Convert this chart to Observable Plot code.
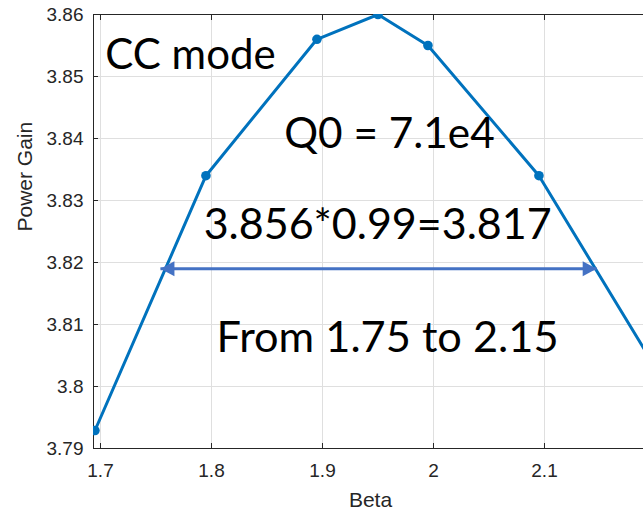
<!DOCTYPE html>
<html>
<head>
<meta charset="utf-8">
<script src="https://cdn.jsdelivr.net/npm/d3@7"></script>
<script src="https://cdn.jsdelivr.net/npm/@observablehq/plot@0.6"></script>
<style>
  html, body { margin: 0; padding: 0; background: #fff; }
  #chart svg { display: block; }
</style>
</head>
<body>
<div id="chart"></div>
<script>
// ---- data ----
const beta = [1.695, 1.795, 1.895, 1.95, 1.995, 2.095, 2.195];
const powerGain = [3.7929, 3.834, 3.856, 3.86, 3.855, 3.834, 3.8045];

const xTicks = [1.7, 1.8, 1.9, 2.0, 2.1];
const xTickLabels = ["1.7", "1.8", "1.9", "2", "2.1"];
const yTicks = [3.79, 3.80, 3.81, 3.82, 3.83, 3.84, 3.85, 3.86];
const yTickLabels = ["3.79", "3.8", "3.81", "3.82", "3.83", "3.84", "3.85", "3.86"];

const rangeLevel = [3.819];
const rangeEnds = [1.754, 2.147];

const notes = ["CC mode", "Q0 = 7.1e4", "3.856*0.99=3.817", "From 1.75 to 2.15"];

const points = beta.map((b, i) => ({beta: b, gain: powerGain[i]}));
const arrow = [{x1: rangeEnds[0], x2: rangeEnds[1], y: rangeLevel[0]}];
const heads = [
  {x: rangeEnds[0], y: rangeLevel[0], dir: 180},
  {x: rangeEnds[1], y: rangeLevel[0], dir: 0}
];

// filled triangular arrowhead, tip at origin pointing right
const headSymbol = {
  draw(ctx) {
    ctx.moveTo(0, 0);
    ctx.lineTo(-14, -7.5);
    ctx.lineTo(-14, 7.5);
    ctx.closePath();
  }
};

const axisColor = "#262626";
const gridColor = "#dfdfdf";
const lineColor = "#0072BD";
const arrowColor = "#4472C4";
const noteFont = "Lato";

const chart = Plot.plot({
  width: 643,
  height: 513,
  marginLeft: 93,
  marginRight: 0,
  marginTop: 14,
  marginBottom: 65,
  style: {fontFamily: "Liberation Sans, Arial, sans-serif", fontSize: "19px", color: axisColor, background: "#fff"},
  x: {domain: [1.6937, 2.1892]},
  y: {domain: [3.79, 3.86]},
  marks: [
    Plot.gridX(xTicks, {stroke: gridColor, strokeOpacity: 1, strokeWidth: 1}),
    Plot.gridY(yTicks, {stroke: gridColor, strokeOpacity: 1, strokeWidth: 1}),
    // frame lines (no right edge: the figure is cropped)
    Plot.ruleY([yTicks[0]], {stroke: axisColor, strokeWidth: 1}),
    Plot.ruleY([yTicks[yTicks.length - 1]], {stroke: axisColor, strokeWidth: 1}),
    Plot.ruleX([1.6937], {stroke: axisColor, strokeWidth: 1}),
    Plot.axisX(xTicks, {anchor: "bottom", tickSize: -5, tickPadding: 20, stroke: axisColor, fill: axisColor,
      tickFormat: (d, i) => xTickLabels[i], label: null, fontSize: 19}),
    Plot.axisX(xTicks, {anchor: "top", tickSize: -5, tickFormat: () => "", label: null, stroke: axisColor}),
    Plot.axisY(yTicks, {anchor: "left", tickSize: -5, tickPadding: 15, stroke: axisColor, fill: axisColor,
      tickFormat: (d, i) => yTickLabels[i], label: null, fontSize: 19}),
    Plot.text(["Beta"], {frameAnchor: "bottom", dy: 58, dx: 2, lineAnchor: "bottom", fontSize: 21, fill: axisColor}),
    Plot.text(["Power Gain"], {frameAnchor: "left", dx: -68, rotate: -90, lineAnchor: "middle", fontSize: 21, fill: axisColor}),
    // data
    Plot.line(points, {x: "beta", y: "gain", stroke: lineColor, strokeWidth: 3, clip: true}),
    Plot.dot(points, {x: "beta", y: "gain", r: 4.8, fill: lineColor, stroke: null, clip: true}),
    // range arrow
    Plot.link(arrow, {x1: "x1", x2: "x2", y1: "y", y2: "y", stroke: arrowColor, strokeWidth: 3}),
    Plot.dot(heads, {x: "x", y: "y", rotate: "dir", symbol: headSymbol, fill: arrowColor, stroke: null}),
    // annotations
    Plot.text([notes[0]], {x: 1.7811, y: 3.85124, lineAnchor: "bottom", fontSize: 42, fontFamily: noteFont, fill: "#000"}),
    Plot.text([notes[1]], {x: 1.9603, y: 3.8385, lineAnchor: "bottom", fontSize: 42.3, fontFamily: noteFont, fill: "#000"}),
    Plot.text([notes[2]], {x: 1.9497, y: 3.8238, lineAnchor: "bottom", fontSize: 43, fontFamily: noteFont, fill: "#000"}),
    Plot.text([notes[3]], {x: 1.9586, y: 3.8055, lineAnchor: "bottom", fontSize: 43.3, fontFamily: noteFont, fill: "#000"})
  ]
});

document.getElementById("chart").appendChild(chart);
</script>
</body>
</html>
